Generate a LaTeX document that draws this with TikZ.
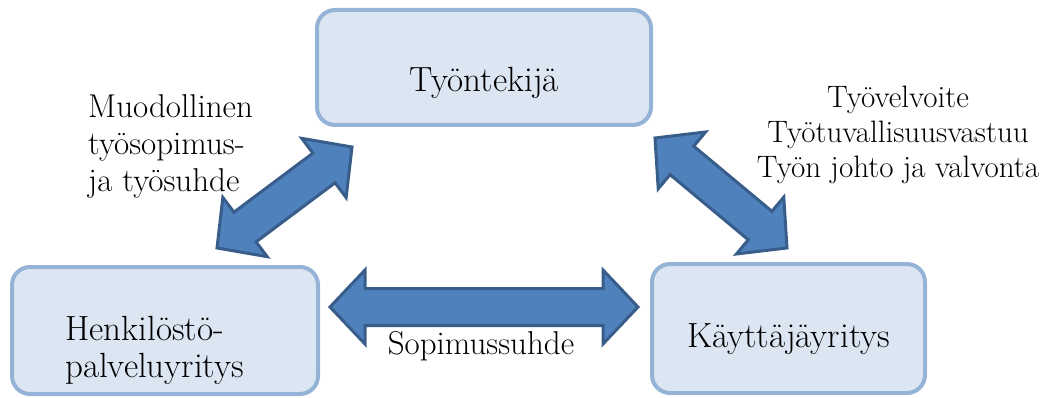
\documentclass[tikz,border=0pt]{standalone}
\usepackage{fontspec}
\definecolor{boxfill}{HTML}{DCE6F2}
\definecolor{boxline}{HTML}{95B3D7}
\definecolor{arrfill}{HTML}{4F81BD}
\definecolor{arrline}{HTML}{385D8A}
\tikzset{
  box/.style={draw=boxline, fill=boxfill, line width=4pt, rounded corners=18pt,
    inner sep=0pt, font=\fontsize{35}{37}\selectfont, align=center},
  boxtxt/.style={inner sep=0pt, font=\fontsize{35}{37}\selectfont},
  bigarrow/.style={draw=arrline, fill=arrfill, line width=3pt, line join=miter},
  lbl/.style={inner sep=0pt, font=\fontsize{33}{37}\selectfont},
  lblr/.style={inner sep=0pt, font=\fontsize{31}{35}\selectfont}
}
\newcommand\DblArrow[3]{%
  \draw[bigarrow, shift={(#1)}, rotate=#2]
    (0,0) -- (35,-37) -- (35,-18.5) -- (#3-35,-18.5) -- (#3-35,-37) -- (#3,0)
    -- (#3-35,37) -- (#3-35,18.5) -- (35,18.5) -- (35,37) -- cycle;}
\begin{document}
\begin{tikzpicture}[x=1pt,y=-1pt]
\useasboundingbox (0,0) rectangle (1052,398);
% boxes
\node[box, minimum width=334pt, minimum height=115pt, text height=56pt, text depth=7pt] (emp) at (484,67.5) {Työntekijä};
\node[box, minimum width=306pt, minimum height=127pt] (agency) at (165,330.5) {};
\node[boxtxt, anchor=west, align=left] (agencytxt) at (65,350) {Henkilöstö-\\palveluyritys};
\node[box, minimum width=273pt, minimum height=129pt, text height=44pt, text depth=7pt] (user) at (788.5,328.5) {Käyttäjäyritys};
% arrow end points
\coordinate (la) at (217,248);
\coordinate (ra) at (655,138);
\coordinate (ha) at (330,307);
\DblArrow{la}{36.8}{168.6}
\DblArrow{ra}{-39.8}{171.8}
\DblArrow{ha}{0}{308}
% labels
\node[lbl, anchor=west, align=left] (l1) at (88,146) {Muodollinen\\työsopimus-\\ja työsuhde};
\node[lblr, align=center] (l2) at (898,135) {Työvelvoite\\Työtuvallisuusvastuu\\Työn johto ja valvonta};
\node[lbl] (l3) at (481,346) {Sopimussuhde};
\end{tikzpicture}
\end{document}
